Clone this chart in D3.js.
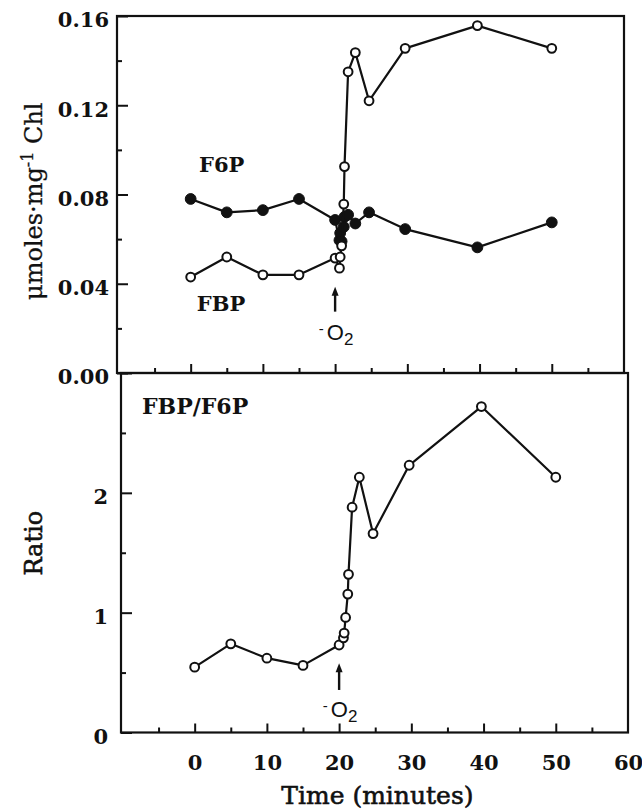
<!DOCTYPE html>
<html>
<head>
<meta charset="utf-8">
<script src="https://cdn.jsdelivr.net/npm/d3@7/dist/d3.min.js"></script>
<style>
  body { margin: 0; background: #fff; }
  svg { display: block; }
  text { fill: #111; }
</style>
</head>
<body>
<div id="viz-container"></div>
<script>
var width = 642,
    height = 809;

// sampling times (minutes), shared by all three series
var times = [0, 5, 10, 15, 20, 20.6, 20.7, 20.9, 21.2, 21.3, 21.8, 22.8, 24.7, 29.7, 39.7, 50];

// umoles per mg Chl
var f6pValues = [0.078, 0.072, 0.073, 0.078, 0.0686, 0.0595, 0.0627, 0.059, 0.0655, 0.070,
                 0.0709, 0.067, 0.072, 0.0645, 0.0563, 0.0675];
var fbpValues = [0.043, 0.052, 0.044, 0.044, 0.0515, 0.047, 0.052, 0.057, 0.0757, 0.0925,
                 0.135, 0.1436, 0.122, 0.1455, 0.1557, 0.1455];

// FBP/F6P
var ratioValues = [0.545, 0.74, 0.62, 0.56, 0.73, 0.79, 0.83, 0.96, 1.155, 1.32,
                   1.88, 2.13, 1.66, 2.23, 2.72, 2.13];

var xMajorTicks = [0, 10, 20, 30, 40, 50, 60];
var xMinorTicks = [-5, 5, 15, 25, 35, 45, 55];
var concMajorTicks = [0, 0.04, 0.08, 0.12, 0.16];
var concMinorTicks = [0.02, 0.06, 0.10, 0.14];
var ratioMajorTicks = [0, 1, 2];
var ratioMinorTicks = [0.5, 1.5, 2.5];

var oxygenOffTime = 20;

var serif = "'DejaVu Serif', 'Liberation Serif', serif";

var svg = d3.select("#viz-container")
  .append("svg")
    .attr("width", width)
    .attr("height", height);

// the two panels are a scan, so the lower box sits a few px to the right
var xTop = d3.scaleLinear().domain([-10.2, 60]).range([117, 624]);
var xBottom = d3.scaleLinear().domain([-10.2, 60]).range([121, 628]);
var yTop = d3.scaleLinear().domain([0, 0.16]).range([373, 16]);
var yBottom = d3.scaleLinear().domain([0, 3]).range([732.5, 373]);

var styleAxis = function(g) {
    g.select(".domain").remove();
    g.selectAll(".tick line").attr("stroke", "#111").attr("stroke-width", 2);
    g.selectAll("text")
        .style("font-family", serif)
        .style("font-weight", "bold")
        .style("font-size", "21px")
        .attr("fill", "#111");
}

var drawPanel = function(x, y, yMajor, yMinor, yFormat, yPad, showXLabels) {
    var x0 = x.range()[0],
        x1 = x.range()[1],
        y0 = y.range()[0],
        y1 = y.range()[1];

    // bottom ticks point up into the box
    svg.append("g")
        .attr("transform", "translate(0," + y0 + ")")
        .call(d3.axisBottom(x).tickValues(xMinorTicks).tickSizeInner(-5).tickSizeOuter(0).tickFormat(""))
        .call(styleAxis);
    var xAx = svg.append("g")
        .attr("transform", "translate(0," + y0 + ")")
        .call(d3.axisBottom(x).tickValues(xMajorTicks).tickSizeInner(-9).tickSizeOuter(0)
              .tickPadding(23).tickFormat(showXLabels ? d3.format("d") : ""))
        .call(styleAxis);
    xAx.selectAll(".tick").filter(function(d){ return d === 60; }).select("line").remove();

    // left ticks point right into the box
    svg.append("g")
        .attr("transform", "translate(" + x0 + ",0)")
        .call(d3.axisLeft(y).tickValues(yMinor).tickSizeInner(-5).tickSizeOuter(0).tickFormat(""))
        .call(styleAxis);
    var yAx = svg.append("g")
        .attr("transform", "translate(" + x0 + ",0)")
        .call(d3.axisLeft(y).tickValues(yMajor).tickSizeInner(-11).tickSizeOuter(0)
              .tickPadding(yPad).tickFormat(yFormat))
        .call(styleAxis);
    yAx.selectAll("text").attr("dy", "0.52em");

    svg.append("rect")
        .attr("x", x0)
        .attr("y", y1)
        .attr("width", x1 - x0)
        .attr("height", y0 - y1)
        .attr("fill", "none")
        .attr("stroke", "#111")
        .attr("stroke-width", 2.2);
}

drawPanel(xTop, yTop, concMajorTicks, concMinorTicks, d3.format(".2f"), 8, false);
drawPanel(xBottom, yBottom, ratioMajorTicks.concat([3]), ratioMinorTicks,
          function(d){ return d === 3 ? "" : d3.format("d")(d); }, 13, true);

var drawSeries = function(x, y, values, filled) {
    var pts = times.map(function(t, i){ return [t, values[i]]; });
    var line = d3.line()
        .x(function(d){ return x(d[0]); })
        .y(function(d){ return y(d[1]); });

    svg.append("path")
        .datum(pts)
        .attr("d", line)
        .attr("fill", "none")
        .attr("stroke", "#111")
        .attr("stroke-width", 2.2)
        .attr("stroke-linejoin", "round");

    svg.append("g").selectAll("circle")
        .data(pts)
        .enter().append("circle")
        .attr("cx", function(d){ return x(d[0]); })
        .attr("cy", function(d){ return y(d[1]); })
        .attr("r", filled ? 5.4 : 4.4)
        .attr("fill", filled ? "#111" : "#fff")
        .attr("stroke", "#111")
        .attr("stroke-width", filled ? 1 : 2);
}

drawSeries(xTop, yTop, f6pValues, true);
drawSeries(xTop, yTop, fbpValues, false);
drawSeries(xBottom, yBottom, ratioValues, false);

// -O2 arrows (label value = baseline of the O)
var drawArrow = function(x, y, tipVal, tailVal, labelVal) {
    var ax = x(oxygenOffTime);
    var tip = y(tipVal), tail = y(tailVal);
    svg.append("line")
        .attr("x1", ax).attr("x2", ax)
        .attr("y1", tip + 6).attr("y2", tail)
        .attr("stroke", "#111")
        .attr("stroke-width", 2.4);
    svg.append("path")
        .attr("d", "M" + ax + "," + tip + "L" + (ax - 3.5) + "," + (tip + 9) + "L" + (ax + 3.5) + "," + (tip + 9) + "Z")
        .attr("fill", "#111");

    var lab = svg.append("text")
        .attr("x", ax + 1)
        .attr("y", y(labelVal))
        .attr("text-anchor", "middle")
        .style("font-family", "'Liberation Sans', Arial, sans-serif")
        .style("font-size", "22px");
    lab.append("tspan").text("-").attr("dy", -6).style("font-size", "15px");
    lab.append("tspan").text("O").attr("dx", 3).attr("dy", 6);
    lab.append("tspan").text("2").attr("dy", 5).style("font-size", "17px");
}

drawArrow(xTop, yTop, 0.0387, 0.0275, 0.0148);
drawArrow(xBottom, yBottom, 0.578, 0.355, 0.132);

// series labels
var seriesLabel = function(x, y, t, v, txt, anchor, size) {
    svg.append("text")
        .attr("x", x(t))
        .attr("y", y(v))
        .attr("dy", "0.35em")
        .attr("text-anchor", anchor)
        .style("font-family", serif)
        .style("font-weight", "bold")
        .style("font-size", size + "px")
        .text(txt);
}
seriesLabel(xTop, yTop, 4.3, 0.0932, "F6P", "middle", 21);
seriesLabel(xTop, yTop, 4.2, 0.0313, "FBP", "middle", 21);
seriesLabel(xBottom, yBottom, -7.3, 2.72, "FBP/F6P", "start", 22);

// axis titles, a touch heavier than the regular face like the printed original
var concTitle = svg.append("text")
    .attr("transform", "translate(42," + yTop(0.077) + ") rotate(-90)")
    .attr("text-anchor", "middle")
    .style("font-family", serif)
    .style("font-size", "24px")
    .attr("stroke", "#111")
    .attr("stroke-width", 0.3);
concTitle.append("tspan").text("\u03bcmoles\u00b7mg");
concTitle.append("tspan").text("-1").attr("dy", -9).style("font-size", "16px");
concTitle.append("tspan").text(" Chl").attr("dy", 9);

svg.append("text")
    .attr("transform", "translate(42," + yBottom(1.58) + ") rotate(-90)")
    .attr("text-anchor", "middle")
    .style("font-family", serif)
    .style("font-size", "24px")
    .attr("stroke", "#111")
    .attr("stroke-width", 0.6)
    .text("Ratio");

svg.append("text")
    .attr("x", xBottom(25.3))
    .attr("y", 804)
    .attr("text-anchor", "middle")
    .style("font-family", serif)
    .style("font-size", "25px")
    .attr("stroke", "#111")
    .attr("stroke-width", 0.6)
    .text("Time (minutes)");
</script>
</body>
</html>
